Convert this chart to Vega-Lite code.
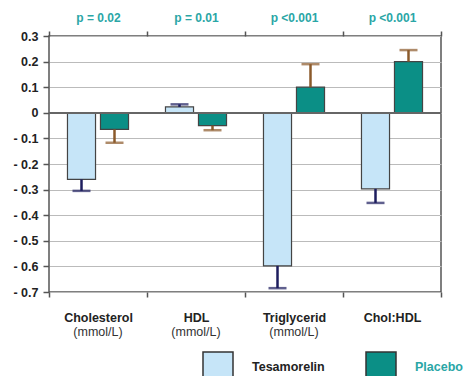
{
  "$schema": "https://vega.github.io/schema/vega-lite/v6.json",
  "autosize": "none",
  "width": 392,
  "height": 256,
  "padding": {"left": 49, "top": 36, "right": 27, "bottom": 84},
  "background": "white",
  "config": {
    "font": "Liberation Sans",
    "view": {"stroke": "#555", "strokeWidth": 1.5},
    "axisY": {
      "labelFontWeight": "bold", "labelFontSize": 12.5, "labelColor": "#222",
      "labelOverlap": false, "labelFlush": false,
      "domain": false, "tickSize": 6, "tickColor": "#555", "tickWidth": 1.5,
      "gridColor": "#bbb", "gridWidth": 1, "labelPadding": 5
    }
  },
  "data": {
    "values": [
      {"cat": "Cholesterol", "series": "Tesamorelin", "value": -0.26, "err": -0.305},
      {"cat": "Cholesterol", "series": "Placebo", "value": -0.065, "err": -0.117},
      {"cat": "HDL", "series": "Tesamorelin", "value": 0.023, "err": 0.033},
      {"cat": "HDL", "series": "Placebo", "value": -0.05, "err": -0.068},
      {"cat": "Triglycerid", "series": "Tesamorelin", "value": -0.598, "err": -0.685},
      {"cat": "Triglycerid", "series": "Placebo", "value": 0.1, "err": 0.19},
      {"cat": "Chol:HDL", "series": "Tesamorelin", "value": -0.297, "err": -0.352},
      {"cat": "Chol:HDL", "series": "Placebo", "value": 0.2, "err": 0.245}
    ]
  },
  "resolve": {"axis": {"x": "independent"}},
  "layer": [
    {
      "mark": {"type": "bar", "strokeWidth": 1.2},
      "encoding": {
        "x": {
          "field": "cat", "type": "nominal", "sort": ["Cholesterol", "HDL", "Triglycerid", "Chol:HDL"],
          "scale": {"paddingInner": 0, "paddingOuter": 0},
          "axis": {
            "orient": "bottom", "title": null, "labelAngle": 0, "domain": false,
            "tickBand": "extent", "tickSize": 5, "tickColor": "#555", "tickWidth": 1.5,
            "labelExpr": "indexof(['Cholesterol','HDL','Triglycerid','Chol:HDL'], datum.value) >= 0 ? datum.value : ''",
            "labelFont": "Liberation Sans", "labelFontWeight": "bold", "labelFontSize": 12.5,
            "labelColor": "#222", "labelPadding": 14, "labelOverlap": false
          }
        },
        "xOffset": {
          "field": "series", "type": "nominal", "sort": ["Tesamorelin", "Placebo"],
          "scale": {"paddingInner": 0.15, "paddingOuter": 0.56}
        },
        "y": {
          "field": "value", "type": "quantitative",
          "scale": {"domain": [-0.7, 0.3], "nice": false, "zero": false},
          "axis": {
            "title": null, "values": [-0.7, -0.6, -0.5, -0.4, -0.3, -0.2, -0.1, 0, 0.1, 0.2, 0.3],
            "labelExpr": "datum.value < -0.001 ? '- ' + format(-datum.value, '.1f') : (abs(datum.value) < 0.001 ? '0' : format(datum.value, '.1f'))"
          }
        },
        "color": {
          "field": "series", "type": "nominal", "sort": ["Tesamorelin", "Placebo"],
          "scale": {"domain": ["Tesamorelin", "Placebo"], "range": ["#c6e5f8", "#0b8f86"]},
          "legend": {
            "title": null, "orient": "none", "direction": "horizontal",
            "legendX": 153, "legendY": 315,
            "symbolType": "square", "symbolSize": 900, "symbolStrokeColor": "#333",
            "symbolStrokeWidth": 1.5, "symbolOpacity": 1,
            "labelFontWeight": "bold", "labelFontSize": 12.5, "labelOffset": 18,
            "columnPadding": 38,
            "encode": {"labels": {"update": {"fill": {"signal": "datum.label == 'Placebo' ? '#2aa6a6' : '#222'"}}}}
          }
        },
        "stroke": {"value": "#444"}
      }
    },
    {
      "mark": {"type": "rule", "color": "#666", "strokeWidth": 1.5},
      "encoding": {"y": {"datum": 0, "type": "quantitative",
        "axis": {
            "title": null, "values": [-0.7, -0.6, -0.5, -0.4, -0.3, -0.2, -0.1, 0, 0.1, 0.2, 0.3],
            "labelExpr": "datum.value < -0.001 ? '- ' + format(-datum.value, '.1f') : (abs(datum.value) < 0.001 ? '0' : format(datum.value, '.1f'))"
          }}}
    },
    {
      "mark": {"type": "rule", "strokeWidth": 2.5},
      "encoding": {
        "x": {
          "field": "cat", "type": "nominal", "sort": ["Cholesterol", "HDL", "Triglycerid", "Chol:HDL"],
          "axis": {
            "orient": "top", "title": null, "labelAngle": 0, "domain": false,
            "tickBand": "extent", "tickSize": 5, "tickColor": "#555", "tickWidth": 1.5,
            "labelExpr": "datum.value == 'Cholesterol' ? 'p = 0.02' : datum.value == 'HDL' ? 'p = 0.01' : (datum.value == 'Triglycerid' || datum.value == 'Chol:HDL') ? 'p <0.001' : ''",
            "labelFontWeight": "bold", "labelFontSize": 12, "labelColor": "#2aa6a6", "labelPadding": 7,
            "labelOverlap": false
          }
        },
        "xOffset": {"field": "series", "type": "nominal", "sort": ["Tesamorelin", "Placebo"]},
        "y": {"field": "value", "type": "quantitative",
          "axis": {
            "title": null, "values": [-0.7, -0.6, -0.5, -0.4, -0.3, -0.2, -0.1, 0, 0.1, 0.2, 0.3],
            "labelExpr": "datum.value < -0.001 ? '- ' + format(-datum.value, '.1f') : (abs(datum.value) < 0.001 ? '0' : format(datum.value, '.1f'))"
          }},
        "y2": {"field": "err"},
        "stroke": {"condition": {"test": "datum.series == 'Tesamorelin'", "value": "#1d1d5e"}, "value": "#8b5a2b"}
      }
    },
    {
      "mark": {"type": "tick", "size": 18, "thickness": 2.5},
      "encoding": {
        "x": {
          "field": "cat", "type": "nominal", "sort": ["Cholesterol", "HDL", "Triglycerid", "Chol:HDL"],
          "axis": {
            "orient": "bottom", "title": null, "labelAngle": 0, "domain": false, "ticks": false,
            "labelExpr": "(datum.value == 'Chol:HDL' || indexof(['Cholesterol','HDL','Triglycerid'], datum.value) < 0) ? '' : '(mmol/L)'",
            "labelFontWeight": "normal", "labelFontSize": 12.5, "labelColor": "#333", "labelPadding": 33,
            "labelOverlap": false
          }
        },
        "xOffset": {"field": "series", "type": "nominal", "sort": ["Tesamorelin", "Placebo"]},
        "y": {"field": "err", "type": "quantitative",
          "axis": {
            "title": null, "values": [-0.7, -0.6, -0.5, -0.4, -0.3, -0.2, -0.1, 0, 0.1, 0.2, 0.3],
            "labelExpr": "datum.value < -0.001 ? '- ' + format(-datum.value, '.1f') : (abs(datum.value) < 0.001 ? '0' : format(datum.value, '.1f'))"
          }},
        "color": {"condition": {"test": "datum.series == 'Tesamorelin'", "value": "#1d1d5e"}, "value": "#8b5a2b"}
      }
    }
  ]
}
